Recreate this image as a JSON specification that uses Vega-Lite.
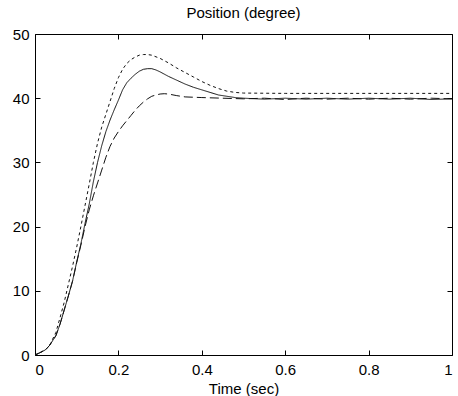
{
  "$schema": "https://vega.github.io/schema/vega-lite/v6.json",
  "autosize": "none",
  "width": 417,
  "height": 321,
  "padding": {"left": 35, "top": 34, "right": 6, "bottom": 41},
  "background": "white",
  "config": {
    "view": {"stroke": "black", "strokeWidth": 1},
    "font": "Liberation Sans",
    "axis": {"grid": false, "domain": false, "ticks": true, "tickWidth": 1, "tickColor": "black", "tickSize": 5, "offset": -5, "labelColor": "black", "labelFontSize": 15, "labelFont": "Liberation Sans", "titleFont": "Liberation Sans", "titleFontSize": 15, "titleFontWeight": "normal", "titleColor": "black"},
    "title": {"font": "Liberation Sans", "fontSize": 15, "fontWeight": "normal", "color": "black"}
  },
  "title": {"text": "Position (degree)", "offset": 6},
  "data": {"values": [
    {"s": "a", "t": 0, "v": 0}, {"s": "a", "t": 0.01, "v": 0.3}, {"s": "a", "t": 0.025, "v": 0.8}, {"s": "a", "t": 0.035, "v": 1.5}, {"s": "a", "t": 0.05, "v": 3.0}, {"s": "a", "t": 0.06, "v": 4.8}, {"s": "a", "t": 0.07, "v": 7.0}, {"s": "a", "t": 0.08, "v": 9.2}, {"s": "a", "t": 0.09, "v": 11.5}, {"s": "a", "t": 0.1, "v": 14.5}, {"s": "a", "t": 0.11, "v": 17.3}, {"s": "a", "t": 0.12, "v": 20.5}, {"s": "a", "t": 0.13, "v": 23.5}, {"s": "a", "t": 0.14, "v": 27.0}, {"s": "a", "t": 0.15, "v": 30.0}, {"s": "a", "t": 0.16, "v": 32.6}, {"s": "a", "t": 0.17, "v": 34.8}, {"s": "a", "t": 0.18, "v": 36.6}, {"s": "a", "t": 0.19, "v": 38.2}, {"s": "a", "t": 0.2, "v": 39.7}, {"s": "a", "t": 0.21, "v": 41.3}, {"s": "a", "t": 0.22, "v": 42.4}, {"s": "a", "t": 0.23, "v": 43.1}, {"s": "a", "t": 0.24, "v": 43.7}, {"s": "a", "t": 0.25, "v": 44.2}, {"s": "a", "t": 0.26, "v": 44.5}, {"s": "a", "t": 0.27, "v": 44.6}, {"s": "a", "t": 0.28, "v": 44.6}, {"s": "a", "t": 0.29, "v": 44.4}, {"s": "a", "t": 0.3, "v": 44.1}, {"s": "a", "t": 0.32, "v": 43.4}, {"s": "a", "t": 0.34, "v": 42.8}, {"s": "a", "t": 0.36, "v": 42.2}, {"s": "a", "t": 0.38, "v": 41.7}, {"s": "a", "t": 0.4, "v": 41.3}, {"s": "a", "t": 0.42, "v": 40.9}, {"s": "a", "t": 0.44, "v": 40.5}, {"s": "a", "t": 0.46, "v": 40.3}, {"s": "a", "t": 0.48, "v": 40.1}, {"s": "a", "t": 0.5, "v": 40.0}, {"s": "a", "t": 0.55, "v": 39.85}, {"s": "a", "t": 0.6, "v": 40.0}, {"s": "a", "t": 0.65, "v": 39.85}, {"s": "a", "t": 0.7, "v": 40.0}, {"s": "a", "t": 0.75, "v": 39.85}, {"s": "a", "t": 0.8, "v": 40.0}, {"s": "a", "t": 0.85, "v": 39.85}, {"s": "a", "t": 0.9, "v": 40.0}, {"s": "a", "t": 0.95, "v": 39.8}, {"s": "a", "t": 1.0, "v": 39.9},
    {"s": "b", "t": 0, "v": 0}, {"s": "b", "t": 0.01, "v": 0.3}, {"s": "b", "t": 0.025, "v": 0.8}, {"s": "b", "t": 0.035, "v": 1.5}, {"s": "b", "t": 0.05, "v": 3.5}, {"s": "b", "t": 0.06, "v": 5.8}, {"s": "b", "t": 0.07, "v": 8.2}, {"s": "b", "t": 0.08, "v": 11.0}, {"s": "b", "t": 0.09, "v": 13.8}, {"s": "b", "t": 0.1, "v": 16.8}, {"s": "b", "t": 0.11, "v": 20.0}, {"s": "b", "t": 0.12, "v": 23.3}, {"s": "b", "t": 0.13, "v": 26.6}, {"s": "b", "t": 0.14, "v": 30.0}, {"s": "b", "t": 0.15, "v": 33.0}, {"s": "b", "t": 0.16, "v": 35.5}, {"s": "b", "t": 0.17, "v": 37.5}, {"s": "b", "t": 0.18, "v": 39.5}, {"s": "b", "t": 0.19, "v": 41.5}, {"s": "b", "t": 0.2, "v": 43.2}, {"s": "b", "t": 0.21, "v": 44.5}, {"s": "b", "t": 0.22, "v": 45.4}, {"s": "b", "t": 0.23, "v": 46.0}, {"s": "b", "t": 0.24, "v": 46.4}, {"s": "b", "t": 0.25, "v": 46.7}, {"s": "b", "t": 0.26, "v": 46.8}, {"s": "b", "t": 0.27, "v": 46.8}, {"s": "b", "t": 0.28, "v": 46.7}, {"s": "b", "t": 0.3, "v": 46.2}, {"s": "b", "t": 0.32, "v": 45.5}, {"s": "b", "t": 0.34, "v": 44.7}, {"s": "b", "t": 0.36, "v": 44.0}, {"s": "b", "t": 0.38, "v": 43.3}, {"s": "b", "t": 0.4, "v": 42.6}, {"s": "b", "t": 0.42, "v": 42.0}, {"s": "b", "t": 0.44, "v": 41.5}, {"s": "b", "t": 0.46, "v": 41.1}, {"s": "b", "t": 0.48, "v": 40.9}, {"s": "b", "t": 0.5, "v": 40.8}, {"s": "b", "t": 0.6, "v": 40.75}, {"s": "b", "t": 0.8, "v": 40.75}, {"s": "b", "t": 1.0, "v": 40.75},
    {"s": "c", "t": 0, "v": 0}, {"s": "c", "t": 0.01, "v": 0.3}, {"s": "c", "t": 0.025, "v": 0.8}, {"s": "c", "t": 0.035, "v": 1.5}, {"s": "c", "t": 0.05, "v": 3.0}, {"s": "c", "t": 0.06, "v": 4.8}, {"s": "c", "t": 0.07, "v": 7.0}, {"s": "c", "t": 0.08, "v": 9.2}, {"s": "c", "t": 0.09, "v": 11.5}, {"s": "c", "t": 0.1, "v": 14.4}, {"s": "c", "t": 0.11, "v": 17.1}, {"s": "c", "t": 0.12, "v": 20.0}, {"s": "c", "t": 0.13, "v": 22.6}, {"s": "c", "t": 0.14, "v": 24.8}, {"s": "c", "t": 0.15, "v": 26.8}, {"s": "c", "t": 0.16, "v": 28.8}, {"s": "c", "t": 0.17, "v": 30.8}, {"s": "c", "t": 0.18, "v": 32.5}, {"s": "c", "t": 0.19, "v": 33.8}, {"s": "c", "t": 0.2, "v": 34.8}, {"s": "c", "t": 0.21, "v": 35.7}, {"s": "c", "t": 0.22, "v": 36.5}, {"s": "c", "t": 0.23, "v": 37.3}, {"s": "c", "t": 0.24, "v": 38.1}, {"s": "c", "t": 0.25, "v": 38.8}, {"s": "c", "t": 0.26, "v": 39.4}, {"s": "c", "t": 0.27, "v": 39.9}, {"s": "c", "t": 0.28, "v": 40.3}, {"s": "c", "t": 0.29, "v": 40.5}, {"s": "c", "t": 0.3, "v": 40.65}, {"s": "c", "t": 0.31, "v": 40.7}, {"s": "c", "t": 0.32, "v": 40.65}, {"s": "c", "t": 0.34, "v": 40.4}, {"s": "c", "t": 0.36, "v": 40.2}, {"s": "c", "t": 0.4, "v": 40.1}, {"s": "c", "t": 0.45, "v": 40.0}, {"s": "c", "t": 0.5, "v": 39.9}, {"s": "c", "t": 0.55, "v": 40.0}, {"s": "c", "t": 0.6, "v": 39.8}, {"s": "c", "t": 0.65, "v": 40.0}, {"s": "c", "t": 0.7, "v": 39.85}, {"s": "c", "t": 0.75, "v": 40.0}, {"s": "c", "t": 0.8, "v": 39.85}, {"s": "c", "t": 0.85, "v": 40.0}, {"s": "c", "t": 0.9, "v": 39.85}, {"s": "c", "t": 0.95, "v": 40.0}, {"s": "c", "t": 1.0, "v": 39.9}
  ]},
  "layer": [
    {
      "mark": {"type": "line", "strokeWidth": 1, "color": "#111"},
      "encoding": {
        "x": {"field": "t", "type": "quantitative", "scale": {"domain": [0, 1], "nice": false}, "axis": {"orient": "bottom", "values": [0, 0.2, 0.4, 0.6, 0.8, 1], "format": "~g", "labelPadding": 7, "title": "Time (sec)", "titlePadding": 4}},
        "y": {"field": "v", "type": "quantitative", "scale": {"domain": [0, 50], "nice": false}, "axis": {"orient": "left", "values": [0, 10, 20, 30, 40, 50], "labelPadding": 6, "title": null}},
        "detail": {"field": "s"},
        "strokeDash": {"field": "s", "type": "nominal", "scale": {"domain": ["a", "b", "c"], "range": [[1, 0], [3, 3], [9, 4]]}, "legend": null}
      }
    },
    {
      "mark": {"type": "line", "opacity": 0},
      "encoding": {
        "x": {"field": "t", "type": "quantitative", "axis": {"orient": "top", "values": [0, 0.2, 0.4, 0.6, 0.8, 1], "labels": false, "title": null}},
        "y": {"field": "v", "type": "quantitative", "axis": {"orient": "right", "values": [0, 10, 20, 30, 40, 50], "labels": false, "title": null}},
        "detail": {"field": "s"}
      }
    }
  ],
  "resolve": {"axis": {"x": "independent", "y": "independent"}}
}
